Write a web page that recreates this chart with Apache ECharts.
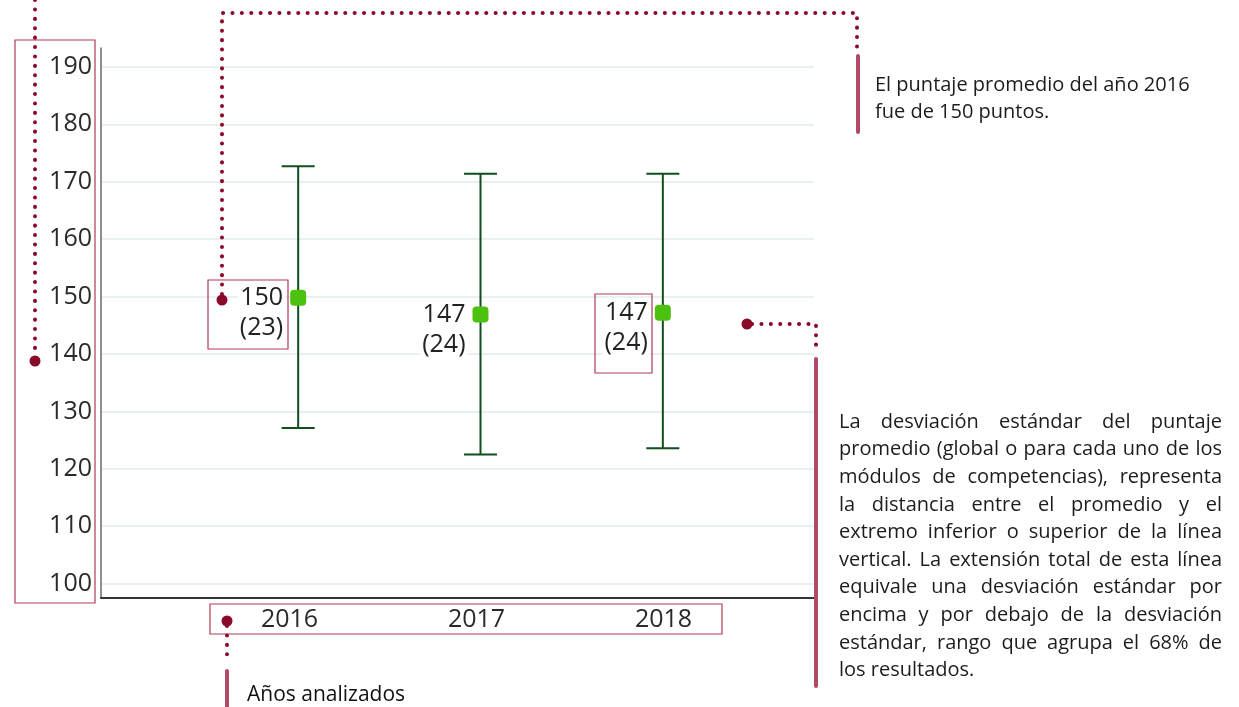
<!DOCTYPE html>
<html>
<head>
<meta charset="utf-8">
<script src="https://cdn.jsdelivr.net/npm/echarts@6/dist/echarts.min.js"></script>
<style>
    html, body { margin: 0; padding: 0; background: #fff; }
    #chart { width: 1239px; height: 707px; }
</style>
</head>
<body>
<div id="chart"></div>
<script>
var years = ['2016', '2017', '2018'];
var means = [149.8, 146.9, 147.2];
var upper = [172.7, 171.4, 171.4];
var lower = [127.1, 122.5, 123.6];
var meanLabels = ['150', '147', '147'];
var sdLabels = ['(23)', '(24)', '(24)'];
var yTicks = [100, 110, 120, 130, 140, 150, 160, 170, 180, 190];

var noteTop = ['El puntaje promedio del año 2016', 'fue de 150 puntos.'];
var noteBottom = [
    'La desviación estándar del puntaje',
    'promedio (global o para cada uno de los',
    'módulos de competencias), representa',
    'la distancia entre el promedio y el',
    'extremo inferior o superior de la línea',
    'vertical. La extensión total de esta línea',
    'equivale una desviación estándar por',
    'encima y por debajo de la desviación',
    'estándar, rango que agrupa el 68% de',
    'los resultados.'
];

var FONT = '"Open Sans", "Noto Sans", sans-serif';
var MAROON = '#8a0a2b';
var PINK = '#b04a66';
var BOX = '#ad3a57';

var chart = echarts.init(document.getElementById('chart'));

// dotted leader lines
function dotted(points) {
    return {
        type: 'polyline',
        shape: { points: points },
        style: { stroke: MAROON, lineWidth: 4, lineDash: [0.1, 9.3], lineCap: 'round', fill: null },
        z: 10
    };
}
function dot(x, y) {
    return { type: 'circle', shape: { cx: x, cy: y, r: 5.5 }, style: { fill: MAROON }, z: 11 };
}
function bar(x, y1, y2) {
    return {
        type: 'line', shape: { x1: x, y1: y1, x2: x, y2: y2 },
        style: { stroke: PINK, lineWidth: 4, lineCap: 'round' }, z: 10
    };
}
function box(x, y, w, h) {
    return { type: 'rect', shape: { x: x, y: y, width: w, height: h }, style: { stroke: BOX, lineWidth: 1.2, fill: null }, z: 9 };
}
// text placed by baseline (middle = baseline - 0.35 * size)
function txt(s, x, baseline, size, color) {
    return {
        type: 'text', x: x, y: baseline - size * 0.35,
        style: { text: s, font: size + 'px ' + FONT, fill: color, verticalAlign: 'middle' },
        z: 10
    };
}

// justified paragraph, word by word
function justified(lines, left, width, firstBaseline, lineGap, size) {
    var ctx = document.createElement('canvas').getContext('2d');
    ctx.font = size + 'px ' + FONT;
    var out = [];
    lines.forEach(function (line, li) {
        var words = line.split(' ');
        var y = firstBaseline + li * lineGap;
        var widths = words.map(function (w) { return ctx.measureText(w).width; });
        var total = widths.reduce(function (a, b) { return a + b; }, 0);
        var gap = ctx.measureText(' ').width;
        if (li < lines.length - 1 && words.length > 1) {
            gap = Math.max(2, (width - total) / (words.length - 1));
        }
        var x = left;
        words.forEach(function (w, wi) {
            out.push(txt(w, x, y, size, '#1c1c1c'));
            x += widths[wi] + gap;
        });
    });
    return out;
}

var graphics = [
    box(15, 40, 80, 563),
    dotted([[35, 0], [35, 356]]),
    dot(35, 361),

    box(208, 280, 80, 69),
    dotted([[222, 294], [222, 13], [857, 13], [857, 48]]),
    dot(222, 300),
    bar(858, 56, 132),

    box(595, 294, 57, 79),
    dotted([[752, 324], [816, 324], [816, 352]]),
    dot(747, 324),
    bar(816, 359, 686),

    box(210, 604, 512, 30),
    dotted([[227, 626], [227, 662]]),
    dot(227, 621),
    bar(227, 671, 712),
    txt('Años analizados', 247, 702, 21, '#111')
];
noteTop.forEach(function (t, i) {
    graphics.push(txt(t, 875, 92 + i * 27, 20, '#1c1c1c'));
});
graphics = graphics.concat(justified(noteBottom, 839, 383, 429, 27.6, 20));

var option = {
    animation: false,
    textStyle: { fontFamily: FONT },
    grid: [
        { left: 101, right: 425, top: 48, bottom: 109 },
        { left: 207, right: 485, top: 48, bottom: 109 },
        { left: 196, right: 482, top: 48, bottom: 109 }
    ],
    xAxis: [
        {
            gridIndex: 0, type: 'value', min: 0, max: 1,
            axisLine: { show: true, lineStyle: { color: '#333', width: 2 } },
            axisTick: { show: false }, axisLabel: { show: false }, splitLine: { show: false }
        },
        {
            gridIndex: 1, type: 'category', data: years,
            axisLine: { show: false }, axisTick: { show: false }, axisLabel: { show: false }
        },
        {
            gridIndex: 2, type: 'category', data: years,
            axisLine: { show: false }, axisTick: { show: false },
            axisLabel: { fontSize: 25, color: '#2a2a2a', margin: 9 }
        }
    ],
    yAxis: [
        {
            gridIndex: 0, type: 'value', min: 97.5, max: 193.3,
            axisLine: { show: true, lineStyle: { color: '#6a6a6a', width: 1.5 } },
            axisTick: { show: false, customValues: yTicks },
            axisLabel: { customValues: yTicks, fontSize: 25, color: '#2a2a2a', margin: 9 },
            splitLine: { show: true, lineStyle: { color: '#e8f0f1', width: 2 } }
        },
        {
            gridIndex: 1, type: 'value', min: 97.5, max: 193.3, show: false
        },
        {
            gridIndex: 2, type: 'value', min: 97.5, max: 193.3, show: false
        }
    ],
    series: [
        {
            type: 'custom',
            xAxisIndex: 1, yAxisIndex: 1,
            data: years.map(function (y, i) { return [i, upper[i], lower[i]]; }),
            encode: { x: 0, y: [1, 2] },
            renderItem: function (params, api) {
                var top = api.coord([api.value(0), api.value(1)]);
                var bot = api.coord([api.value(0), api.value(2)]);
                var hw = 16.5;
                var st = { stroke: '#114e1e', lineWidth: 2 };
                return {
                    type: 'group',
                    children: [
                        { type: 'line', shape: { x1: top[0], y1: top[1], x2: bot[0], y2: bot[1] }, style: st },
                        { type: 'line', shape: { x1: top[0] - hw, y1: top[1], x2: top[0] + hw, y2: top[1] }, style: st },
                        { type: 'line', shape: { x1: bot[0] - hw, y1: bot[1], x2: bot[0] + hw, y2: bot[1] }, style: st }
                    ]
                };
            },
            z: 2
        },
        {
            type: 'scatter',
            xAxisIndex: 1, yAxisIndex: 1,
            data: means,
            symbol: 'roundRect',
            symbolSize: 16,
            itemStyle: { color: '#4dc110', opacity: 1 },
            label: {
                show: true,
                position: 'left',
                distance: 5,
                offset: [0, 15],
                align: 'right',
                fontSize: 25,
                lineHeight: 30,
                color: '#222',
                backgroundColor: '#fff',
                padding: [0, 2],
                formatter: function (p) {
                    return meanLabels[p.dataIndex] + '\n' + sdLabels[p.dataIndex];
                }
            },
            z: 3
        }
    ],
    graphic: graphics
};

chart.setOption(option);
</script>
</body>
</html>
